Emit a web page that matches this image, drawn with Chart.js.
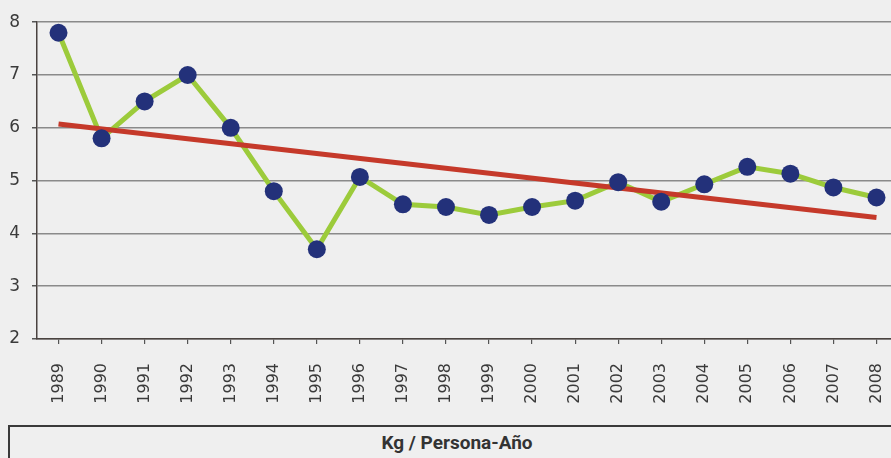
<!DOCTYPE html>
<html><head><meta charset="utf-8">
<script src="https://cdn.jsdelivr.net/npm/chart.js@4"></script>
<style>
html,body{margin:0;padding:0;background:#efefef;overflow:hidden;width:891px;height:458px;}
#wrap{position:absolute;left:0;top:0;width:907px;height:420px;}
#box{position:absolute;left:8px;top:425px;width:898px;height:40px;border:2px solid #3a3a3a;box-sizing:border-box;
font-family:"Liberation Sans Narrow","Roboto",sans-serif;font-weight:bold;font-size:19px;color:#333;text-align:center;line-height:32px;}
</style></head>
<body>
<div id="wrap"><canvas id="c" width="907" height="420"></canvas></div>
<div id="box">Kg / Persona-Año</div>
<script>
const years = ["1989","1990","1991","1992","1993","1994","1995","1996","1997","1998","1999","2000","2001","2002","2003","2004","2005","2006","2007","2008"];
const kgPersonaAnio = [7.8,5.8,6.5,7.0,6.0,4.8,3.7,5.07,4.55,4.5,4.35,4.5,4.62,4.97,4.6,4.93,5.26,5.13,4.87,4.68];
const trendEnds = [6.07,null,null,null,null,null,null,null,null,null,null,null,null,null,null,null,null,null,null,4.3];
const yTicks = [2,3,4,5,6,7,8];

new Chart(document.getElementById('c'), {
  type:'line',
  data:{labels:years, datasets:[
    {data:kgPersonaAnio, borderColor:'#9ccb3b', borderWidth:5, pointRadius:0, tension:0, order:3},
    {data:trendEnds, borderColor:'#c5392a', borderWidth:5, pointRadius:0, spanGaps:true, tension:0, order:2},
    {data:kgPersonaAnio, showLine:false, pointRadius:9, pointBackgroundColor:'#23317a', pointBorderColor:'#23317a', pointBorderWidth:0, order:1}
  ]},
  options:{
    responsive:false, animation:false,
    layout:{padding:{top:19,left:0,right:0,bottom:0}},
    plugins:{legend:{display:false}, tooltip:{enabled:false}},
    scales:{
      x:{offset:true,
        grid:{display:true, drawOnChartArea:false, drawTicks:true, tickLength:5, color:'#555', lineWidth:1.2},
        border:{color:'#4a4340', width:1.5},
        ticks:{minRotation:90, maxRotation:90, autoSkip:false, padding:19, color:'#3a3a3a', font:{family:"'DejaVu Sans', sans-serif", size:16}},
        afterFit:(s)=>{s.height=81; s.paddingRight=0; s.paddingLeft=0;}
      },
      y:{min:2, max:8,
        afterBuildTicks:(s)=>{s.ticks=yTicks.map(v=>({value:v}));},
        grid:{color:'#8a8a8a', lineWidth:1.5, tickLength:5, tickColor:'#555'},
        border:{color:'#4a4340', width:1.5},
        ticks:{padding:12, color:'#3a3a3a', font:{family:"'DejaVu Sans', sans-serif", size:17}},
        afterFit:(s)=>{s.width=37;}
      }
    }
  }
});
</script>
</body></html>
